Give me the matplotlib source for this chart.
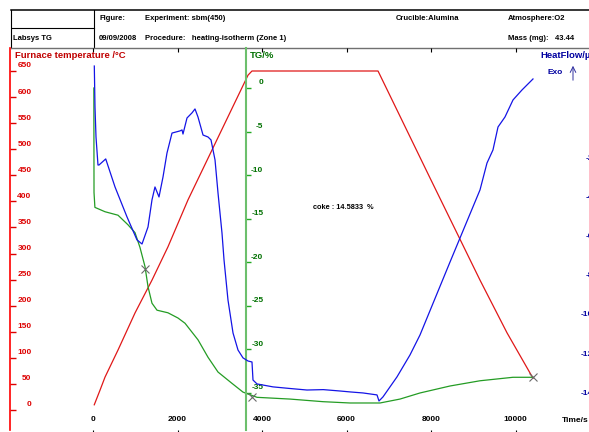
import matplotlib
matplotlib.use("Agg")
import matplotlib.pyplot as plt
from matplotlib.transforms import ScaledTranslation

plt.rcParams['font.family'] = ['Liberation Sans', 'DejaVu Sans']
plt.rcParams['font.weight'] = 'bold'
plt.rcParams['axes.unicode_minus'] = False

# ---- data ----
# furnace temperature program (time in s, temperature in degC)
time_temp = [30, 166, 284, 592, 994, 1396, 1775, 2249, 3669, 3763,
             6746, 7976, 9160, 9799, 10414]
temp = [10, 38, 63, 115, 186, 249, 313, 403, 642, 650,
        650, 445, 249, 148, 61]

# TG mass change in %
time_tg = [20, 24, 45, 284, 592, 828, 994, 1112, 1231, 1302, 1396, 1515,
           1775, 2012, 2178, 2485, 2722, 2959, 3290, 3550, 3882, 4663,
           5444, 6083, 6793, 7266, 7740, 8450, 9160, 9941, 10414]
tg_vals = [0, -12.0, -13.7, -14.2, -14.6, -15.7, -16.6, -18.3, -20.5, -22.8,
           -24.7, -25.5, -25.8, -26.4, -27.0, -28.9, -30.9, -32.6, -33.9,
           -34.9, -35.5, -35.7, -36.0, -36.15, -36.15, -35.7, -35.0, -34.2,
           -33.6, -33.2, -33.2]

# points marked on the TG curve
marker_t = [1231, 3763, 10414]
marker_tg = [-20.8, -35.5, -33.2]

# heat flow in uV
time_hf = [31, 47, 71, 118, 142, 301, 521, 805, 1041, 1160, 1302, 1396,
           1467, 1562, 1657, 1751, 1870, 2059, 2107, 2130, 2225, 2343, 2414,
           2485, 2604, 2722, 2793, 2888, 2959, 3053, 3101, 3195, 3314, 3432,
           3550, 3669, 3763, 3787, 3882, 4260, 4650, 5065, 5450, 5846, 6100,
           6391, 6722, 6769, 6864, 7195, 7503, 7740, 8450, 9160, 9325, 9467,
           9586, 9751, 9941, 10154, 10414]
hf_vals = [2.65, 0.56, -0.97, -2.40, -2.40, -2.09, -3.52, -5.05, -6.22, -6.43,
           -5.56, -4.18, -3.52, -4.03, -3.01, -1.79, -0.77, -0.66, -0.61,
           -0.82, 0.0, 0.26, 0.46, 0.05, -0.87, -0.97, -1.12, -2.14, -3.83,
           -5.87, -7.24, -9.29, -10.97, -11.84, -12.24, -12.40, -12.45,
           -13.37, -13.57, -13.72, -13.80, -13.88, -13.86, -13.93, -13.98,
           -14.03, -14.13, -14.44, -14.23, -13.21, -12.09, -11.07, -7.35,
           -3.67, -2.30, -1.63, -0.46, 0.05, 0.92, 1.43, 1.99]

temp_ticks = list(range(0, 651, 50))
tg_ticks = list(range(-35, 1, 5))
hf_ticks = list(range(-14, 3, 2))
time_ticks = [0, 2000, 4000, 6000, 8000, 10000]

W, H = 589, 432


def fx(px):
    return px / W


def fy(py):
    return 1 - py / H


fig = plt.figure(figsize=(W / 100, H / 100), dpi=100)

# ---- header box ----
hax = fig.add_axes([fx(10.5), fy(48), (600 - 10.5) / W, (48 - 9.5) / H])
hax.set_xlim(10.5, 600)
hax.set_ylim(48, 9.5)
hax.patch.set_alpha(0)
hax.spines['right'].set_visible(False)
hax.spines['top'].set_linewidth(1.1)
hax.spines['left'].set_linewidth(0.8)
hax.spines['bottom'].set_color('#707070')
hax.spines['bottom'].set_linewidth(1.0)
hax.axvline(94, color='black', lw=0.8)
hax.axhline(28, xmin=0, xmax=(94 - 10.5) / (600 - 10.5), color='black', lw=0.8)
hax.set_xticks([])
hax.set_yticks([])

hdr = dict(fontsize=5.5, color='black', va='center')
fig.text(fx(13), fy(38), "Labsys TG", **hdr)
fig.text(fx(99), fy(19), "Figure:", **hdr)
fig.text(fx(145), fy(19), "Experiment: sbm(450)", **hdr)
fig.text(fx(396), fy(19), "Crucible:Alumina", **hdr)
fig.text(fx(508), fy(19), "Atmosphere:O2", **hdr)
fig.text(fx(99), fy(38), "09/09/2008", **hdr)
fig.text(fx(145), fy(38), "Procedure:   heating-isotherm (Zone 1)", **hdr)
fig.text(fx(508), fy(38), "Mass (mg):   43.44", **hdr)

# ---- main axes: temperature ----
ax = fig.add_axes([fx(10), fy(430), 590 / W, (430 - 48) / H])
ax.set_xlim(-1964.5, 12000)
ax.set_ylim(-38.35, 694.1)
ax.patch.set_alpha(0)
for s in ['top', 'right', 'bottom']:
    ax.spines[s].set_visible(False)
ax.spines['left'].set_color('#ff0000')
ax.spines['left'].set_linewidth(1.2)

ax.tick_params(axis='y', direction='in', length=4.3, width=1,
               colors='#dd0000', pad=-15.5, labelsize=6)
ax.tick_params(axis='x', direction='out', length=2, width=0.8,
               pad=-12, labelsize=6, colors='black')
ax.set_xticks(time_ticks)
ax.set_yticks(temp_ticks)
up = ScaledTranslation(0, 0.06, fig.dpi_scale_trans)
for t in ax.yaxis.get_major_ticks():
    t.label1.set_transform(t.label1.get_transform() + up)

# small ticks hanging from the header line
top = ax.secondary_xaxis('top')
top.set_xticks(time_ticks)
top.tick_params(direction='in', length=3, width=0.8, labeltop=False)
top.spines['top'].set_visible(False)

ax.plot(time_temp, temp, color='#e01818', lw=0.9)

# ---- TG axis ----
tga = ax.twinx()
tga.set_ylim(-39.25, 4.59)
for s in ['top', 'right', 'bottom']:
    tga.spines[s].set_visible(False)
tga.spines['left'].set_visible(True)
tga.spines['left'].set_position(('data', 3621))
tga.spines['left'].set_color('#6cbf6c')
tga.spines['left'].set_linewidth(1.5)
tga.yaxis.tick_left()
tga.tick_params(axis='y', direction='in', length=3.6, width=1,
                color='#22aa22', labelcolor='#007000', pad=-12.5,
                labelsize=6)
tga.set_yticks(tg_ticks)
for t in tga.yaxis.get_major_ticks():
    t.label1.set_transform(t.label1.get_transform() + up)

tga.plot(time_tg, tg_vals, color='#249c24', lw=0.9)
tga.plot(marker_t, marker_tg, 'x', color='#6a6a6a', ms=6, mew=0.8)

# ---- heat flow axis (its labels run off the right edge) ----
hfa = ax.twinx()
hfa.set_ylim(-15.92, 3.57)
for s in hfa.spines.values():
    s.set_visible(False)
hfa.tick_params(axis='y', length=0, pad=-4.8, labelcolor='#0000a0',
                labelsize=6)
hfa.set_yticks(hf_ticks)
for t in hfa.yaxis.get_major_ticks():
    t.label2.set_horizontalalignment('right')

hfa.plot(time_hf, hf_vals, color='#1414e6', lw=0.9)

# ---- axis titles and notes ----
fig.text(fx(15), fy(56), "Furnace temperature /°C", color='#c00000',
         fontsize=6.8, va='center')
fig.text(fx(250), fy(56), "TG/%", color='#007000', fontsize=6.8, va='center')
fig.text(fx(540), fy(56), "HeatFlow/µV", color='#0000a0', fontsize=6.8,
         va='center')
fig.text(fx(548), fy(72), "Exo", color='#0000a0', fontsize=6, va='center')
ax.annotate('', xy=(573, H - 63), xytext=(573, H - 83),
            xycoords='figure pixels', textcoords='figure pixels',
            arrowprops=dict(arrowstyle='->', color='#3030a0', lw=0.7))
fig.text(fx(313), fy(207), "coke : 14.5833  %", color='black', fontsize=5.3,
         va='center')
fig.text(fx(562), fy(421), "Time/s", color='black', fontsize=6,
         va='center')

fig.savefig('out.png', dpi=100)
